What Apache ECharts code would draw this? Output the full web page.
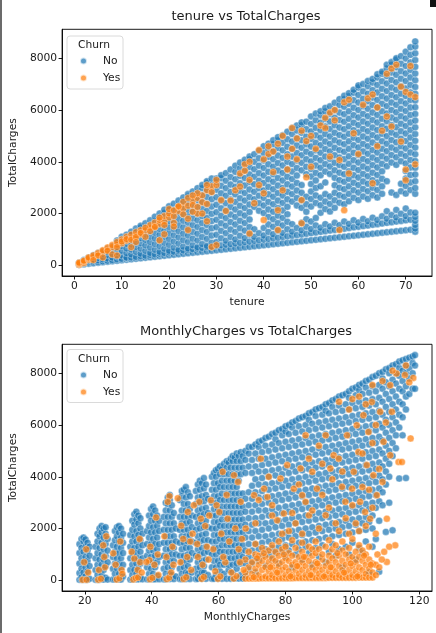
<!DOCTYPE html>
<html>
<head>
<meta charset="utf-8">
<script src="https://cdn.jsdelivr.net/npm/echarts@6/dist/echarts.min.js"></script>
<style>
html,body{margin:0;padding:0;background:#fff;}
#chart{width:436px;height:633px;}
</style>
</head>
<body>
<div id="chart"></div>
<script>
// ---------- Axis ticks / labels ----------
const tenureTicks = [0, 10, 20, 30, 40, 50, 60, 70];
const monthlyTicks = [20, 40, 60, 80, 100, 120];
const totalTicks = [0, 2000, 4000, 6000, 8000];
const churnLabels = ['No', 'Yes'];

// ---------- tenure vs TotalCharges ----------
// rows: [tenure, [TotalCharges values]] for Churn = No
const tenureNo = [
[1,[19,24,45,70,85,100]],
[2,[39,50,80,120,160,200]],
[3,[57,74,115,170,240,300]],
[4,[77,99,150,230,310,390]],
[5,[97,126,190,280,380,470]],
[6,[116,150,230,330,440,545]],
[7,[135,176,260,390,510,640]],
[8,[154,198,300,440,590,730]],
[9,[173,228,340,500,650,810,960]],
[10,[195,250,380,560,740,920,1100]],
[11,[214,277,300,470,650,830,1010,1180]],
[12,[232,301,420,610,800,990,1180,1300]],
[13,[252,325,520,710,900,1090,1280,1420]],
[14,[271,350,450,650,850,1050,1250,1450,1530]],
[15,[291,372,560,770,980,1190,1400,1620]],
[16,[310,398,480,690,900,1110,1320,1530,1740]],
[17,[330,421,600,820,1040,1260,1480,1700,1880]],
[18,[349,447,520,740,960,1180,1400,1620,1840,2000]],
[19,[368,473,640,870,1100,1330,1560,1790,2020,2150]],
[20,[387,497,560,790,1020,1250,1480,1710,1940,2170,2280]],
[21,[407,522,680,920,1160,1400,1640,1880,2120,2380]],
[22,[425,546,600,840,1080,1320,1560,1800,2040,2280,2500]],
[23,[445,572,720,970,1220,1470,1720,1970,2220,2470,2620]],
[24,[464,597,650,900,1150,1400,1650,1900,2150,2400,2650,2750]],
[25,[484,620,770,1030,1290,1550,1810,2070,2330,2590,2850]],
[26,[503,646,700,960,1220,1480,1740,2000,2260,2520,2780,2980]],
[27,[523,670,820,1090,1360,1630,1900,2170,2440,2710,2980,3100]],
[28,[541,696,750,1020,1290,1560,1830,2100,2370,2640,2910,3180,3250]],
[29,[561,720,870,1150,1430,1710,1990,2270,2550,2830,3110,3350]],
[30,[580,745,900,1180,1470,1760,2050,2340,2630,2920,3210,3350]],
[31,[600,770,1040,1330,1620,1910,2200,2490,2780,3070,3360,3480]],
[32,[619,795,950,1240,1530,1820,2110,2400,2690,2980,3270,3560]],
[33,[638,818,1090,1380,1670,1960,2250,2540,2830,3120,3410,3700]],
[34,[658,843,1000,1290,1580,1870,2160,2450,2740,3030,3320,3610,3850]],
[35,[677,870,1140,1430,1720,2010,2300,2590,2880,3170,3460,3750,3970]],
[36,[697,893,1050,1340,1630,1920,2210,2500,2790,3080,3370,3660,3950,4080]],
[37,[716,918,1190,1480,1770,2060,2350,2640,2930,3220,3510,3800,4090,4200]],
[38,[735,943,1100,1390,2260,2550,2840,3130,3420,3710,4000,4290]],
[39,[754,968,1240,2110,2400,2690,2980,3270,3560,3850,4140,4430]],
[40,[774,993,1150,1440,2020,2310,2600,2890,3180,3470,3760,4050,4340,4600]],
[41,[793,1017,1290,1580,1870,2160,2450,2740,3030,3320,3610,3900,4190,4480,4700]],
[42,[812,1042,1200,1490,1780,2070,2360,2650,2940,3230,3520,3810,4100,4390,4680,4830]],
[43,[832,1067,1340,1630,1920,2210,2500,2790,3080,3370,3660,3950,4240,4530,4820,4950]],
[44,[851,1092,1250,1540,1830,2120,2410,2700,2990,3280,3570,3860,4150,4440,4730,5020]],
[45,[870,1118,1390,1680,1970,2260,2550,2840,3130,3420,3710,4000,4290,4580,4870,5160]],
[46,[890,1143,1300,1590,2460,2750,3040,3330,3620,3910,4200,4490,4780,5070,5300]],
[47,[909,1168,1440,2310,2600,2890,3180,3470,3760,4050,4340,4630,4920,5210,5400]],
[48,[928,1192,1350,1640,2220,2510,2800,3100,3670,3960,4250,4540,4830,5120,5410,5520]],
[49,[947,1218,1490,1780,2070,2360,2650,3520,3810,4100,4390,4680,4970,5260,5550]],
[50,[967,1243,1400,1690,2270,2560,2850,3140,3430,3720,4010,4300,4590,4880,5170,5460,5750]],
[51,[986,1268,1540,1830,2410,2700,2990,3280,3570,3860,4150,4440,4730,5020,5310,5600,5860]],
[52,[1006,1292,1450,2030,2320,2610,3050,3480,3770,4060,4350,4640,4930,5220,5510,5800,5950]],
[53,[1025,1317,1590,2170,2460,2750,3200,3620,3910,4200,4490,4780,5070,5360,5650,5940,6080]],
[54,[1044,1342,1500,2080,2370,2660,3530,3820,4110,4400,4690,4980,5270,5560,5850,6140]],
[55,[1064,1367,1640,2220,2510,2800,3090,3380,3670,3960,4250,4540,4830,5120,5410,5700,5990,6280]],
[56,[1083,1391,1550,2420,2710,3000,3290,3580,3870,4160,4450,4740,5030,5320,5610,5900,6190,6420]],
[57,[1102,1416,1690,2360,2650,2940,3230,3520,3810,4100,4390,4680,4970,5260,5550,5840,6130,6420,6550]],
[58,[1122,1441,1600,2470,2760,3050,3340,3630,3920,4210,4500,4790,5080,5370,5660,5950,6240,6530,6650]],
[59,[1141,1466,1740,2610,2900,3190,3480,3770,4060,4350,4640,4930,5220,5510,5800,6090,6380,6670,6780]],
[60,[1160,1490,1650,2520,2810,3100,3390,3680,3970,4260,4550,4840,5130,5420,5710,6000,6290,6580,6870,6950]],
[61,[1180,1515,1790,2660,2950,3240,3530,3820,4110,4400,4690,4980,5270,5560,5850,6140,6430,6720,7000]],
[62,[1199,1540,1700,2570,2860,3150,3440,3730,4020,4310,4600,4890,5180,5470,5760,6050,6340,6630,6920,7120]],
[63,[1218,1565,1840,2710,3000,3290,3580,3870,4160,4450,4740,5030,5320,5610,5900,6190,6480,6770,7060,7200]],
[64,[1238,1590,1750,2620,2910,3200,3490,3780,4070,4360,4650,4940,5230,5520,5810,6100,6390,6680,6970,7260,7380]],
[65,[1257,1614,1890,2760,3050,3340,3630,3920,4210,4500,4790,5080,5370,5660,5950,6240,6530,6820,7110,7400,7480]],
[66,[1276,1639,1800,2090,3250,3830,4120,4410,4700,4990,5280,5570,5860,6150,6440,6730,7020,7310,7600,7750]],
[67,[1296,1664,1940,2810,3970,4260,4550,4840,5130,5420,5710,6000,6290,6580,6870,7160,7450,7740,7850]],
[68,[1315,1689,1850,2140,2720,3880,4170,4460,4750,5040,5330,5620,5910,6200,6490,6780,7070,7360,7650,7940,8000]],
[69,[1334,1714,1990,2860,3150,4020,4310,4600,4890,5180,5470,5760,6050,6340,6630,6920,7210,7500,7790,8080]],
[70,[1354,1738,1900,2190,2770,3060,3350,3640,3930,4220,4510,4800,5090,5380,5670,5960,6250,6540,6830,7120,7410,7700,7990,8250]],
[71,[1373,1763,2040,2910,3200,3490,3780,4070,4360,4650,4940,5230,5520,5810,6100,6390,6680,6970,7260,7550,7840,8130,8420]],
[72,[1300,1420,1560,1720,1870,2030,2760,2990,3250,3510,3770,4030,4290,4550,4810,5070,5330,5590,5850,6110,6370,6630,6890,7150,7410,7670,7930,8190,8450,8650]]
];

// [tenure, TotalCharges] for Churn = Yes
const tenureYes = [
[1,20],[1,45],[1,75],[1,100],[2,90],[2,150],[2,180],[3,210],[3,260],[3,300],[4,320],[4,380],[5,420],[5,470],[6,520],[6,580],[7,600],[7,690],[8,700],[8,780],[9,790],[9,900],[10,850],[10,1000],[11,960],[11,1100],[12,1050],[12,1180],[13,1150],[13,1280],[14,1200],[14,1350],[15,1350],[16,1450],[16,1550],[17,1500],[17,1650],[18,1600],[18,1750],[19,1700],[19,1900],[20,1850],[20,2000],[21,1900],[22,2100],[22,2250],[23,2200],[23,2450],[24,2300],[25,2500],[26,2600],[27,2700],[28,2900],[29,3050],[30,3100],
[5,380],[7,560],[9,700],[10,920],[11,1010],[12,990],[13,1090],[14,1250],[15,1450],[16,1320],[17,1480],[18,1840],[19,1560],[20,2170],[21,2120],[22,2280],[23,1970],[24,2600],[25,2330],[26,2780],[27,2440],[28,3100],[29,2830],[30,3300],[21,1640],[26,2000],[28,2370],[25,2070],
[4,200],[6,300],[8,420],[9,380],[12,700],[13,900],[15,1100],[18,970],[19,1200],[21,1500],[24,1800],[24,1360],[26,2250],[27,2000],[29,710],[30,780],[31,2520],[33,2500],[34,2900],[35,3550],[35,3040],[36,3650],[36,3900],[37,4000],[37,3300],[37,1230],[38,2400],[39,3100],[40,1750],[40,2780],[41,4300],[41,4600],[42,4400],[42,3600],[43,4700],[43,2130],[43,1360],[44,2900],[45,3700],[45,4200],[46,4500],[47,4900],[47,4100],[48,5200],[48,1620],[48,2520],[49,4800],[49,3400],[50,3810],[50,5000],[52,5400],[53,5700],[53,5300],[54,5900],[54,4200],[55,5600],[55,6000],[56,4070],[56,1360],[57,6300],[57,2130],[58,6400],[58,3550],[59,5100],[61,6200],[62,6450],[63,6600],[63,3170],[64,4600],[65,5200],[66,5750],[66,7400],[67,5360],[67,7600],[68,7750],[69,6900],[69,4780],[70,6700],[70,3290],[70,3700],[71,6600],[71,7700],[72,6500],[72,3900],[60,4300],[51,4500],[46,5300],[32,2100],[28,1700],[25,2700],[39,4450],[44,5000],[40,4100],[64,6100]
];

// ---------- MonthlyCharges vs TotalCharges ----------
// rows: [MonthlyCharges, [TotalCharges values]] for Churn = No
const monthlyNo = [
[18.4,[20,280,650,1050,1400]],
[19.0,[19,120,450,850,1250,1600]],
[19.6,[20,300,700,1100,1500,1650]],
[20.2,[20,150,500,900,1300,1580]],
[20.8,[21,350,750,1150,1450]],
[21.4,[60,550,950,1300]],
[23.2,[24,400,850,1300]],
[23.8,[25,200,600,1050,1500,1800]],
[24.4,[25,400,800,1250,1700,2000]],
[25.0,[50,200,600,1000,1450,1850,2100]],
[25.6,[26,400,800,1200,1650,2000]],
[26.2,[100,550,950,1400,1800,2050]],
[26.8,[27,700,1150,1600]],
[28.4,[29,450,900,1350]],
[29.0,[30,250,650,1100,1550,1900]],
[29.6,[45,450,850,1300,1700,2050]],
[30.2,[30,250,650,1050,1500,1850,2100]],
[30.8,[31,450,850,1250,1650,2000]],
[31.4,[150,600,1050,1450,1800]],
[33.6,[34,400,850,1300,1750]],
[34.2,[35,200,600,1050,1500,1950,2300]],
[34.8,[70,400,800,1250,1700,2150,2550]],
[35.4,[36,250,650,1050,1500,1900,2350,2650]],
[36.0,[36,450,850,1300,1750,2200,2500]],
[36.6,[120,650,1100,1550,2000,2400]],
[37.2,[37,850,1350,1800]],
[38.6,[39,500,950,1400,1900]],
[39.2,[39,250,700,1150,1650,2100,2500]],
[39.8,[80,450,900,1400,1850,2300,2750]],
[40.4,[41,250,700,1150,1600,2050,2550,2850]],
[41.0,[40,500,950,1400,1850,2300,2700]],
[41.6,[180,700,1200,1650,2100,2500]],
[42.2,[42,900,1400,1900,2300]],
[43.6,[44,450,950,1450,1950,2450]],
[44.2,[44,250,700,1200,1700,2200,2700,3000]],
[44.8,[90,500,950,1450,1950,2450,2950,3200]],
[45.4,[46,250,750,1200,1700,2200,2700,3100,3300]],
[46.0,[200,500,1000,1450,1950,2450,2900]],
[46.6,[47,750,1250,1700,2200,2600]],
[47.2,[150,1000,1500,2000]],
[48.4,[49,450,950,1450,1950,2450,3100]],
[49.0,[49,250,700,1200,1700,2200,2700,3250,3450]],
[49.6,[100,500,950,1450,1950,2450,2950,3500]],
[50.2,[51,300,750,1250,1700,2200,2700,3200,3600]],
[50.8,[250,550,1000,1500,1950,2450,2950,3400]],
[51.4,[52,800,1250,1750,2250,2750,3250]],
[52.0,[300,1050,1500,2050,2500]],
[53.2,[54,450,950,1450,1950,2450,2950,3450]],
[53.8,[55,250,700,1200,1700,2200,2700,3200,3700]],
[54.4,[150,500,1000,1500,2000,2500,3000,3500,3850]],
[55.0,[56,300,750,1250,1750,2250,2750,3250,3750]],
[55.6,[300,550,1050,1550,2050,2550,3050,3550,3950]],
[56.2,[57,800,1300,1800,2300,2800,3300,3700]],
[56.8,[200,1100,1550,2050,2600,3150]],
[58.0,[60,500,1000,1500,2000,2500,3000,3500,4000]],
[58.6,[59,750,1250,1750,2250,2750,3250,3750,4150]],
[59.2,[200,500,1000,1500,2000,2500,3000,3500,4000,4250]],
[59.8,[61,750,1250,1750,2250,2750,3250,3750,4300]],
[60.4,[350,600,1100,1600,2100,2600,3100,3600,4100,4400]],
[61.0,[62,850,1350,1850,2350,2850,3350,3850,4300]],
[61.6,[250,600,1100,1600,2100,2600,3100,3600,4100,4500]],
[62.4,[63,850,1350,1850,2350,2850,3350,3850,4350,4600]],
[63.0,[400,600,1100,1600,2100,2600,3100,3600,4100,4550]],
[63.6,[64,850,1350,1850,2350,2850,3350,3850,4350,4700]],
[64.2,[300,600,1100,1600,2100,2600,3100,3600,4100,4600,4800]],
[64.8,[65,850,1350,1850,2350,2850,3350,3850,4350,4750]],
[65.4,[450,650,1100,1600,2100,2600,3100,3600,4100,4600,4900]],
[66.0,[66,900,1350,1850,2350,2850,3350,3850,4350,4800]],
[66.6,[200,650,1100,1600,2100,2600,3100,4100,4600,4950]],
[67.2,[67,900,1350,1850,2350,2850,3350,4350,4800]],
[68,[180,650,1150,1650,2150,2650,3150,4150,4650,5000]],
[69,[420,900,1400,1900,2400,2900,3400,4400,4900,5150]],
[70,[650,1150,1650,2150,2650,3150,3650,4150,4650,5150]],
[71,[300,900,1400,1900,2400,2900,3400,3900,4400,4900,5250]],
[72,[750,1200,1700,2200,2700,3200,3700,4200,4700,5150,5350]],
[73,[950,1450,1950,2450,2950,3450,3950,4450,4950,5400]],
[74,[550,1200,1700,2200,2700,3200,3700,4200,4700,5200,5500]],
[75,[1000,1500,2000,2500,3000,3500,4000,4500,5000,5550]],
[76,[800,1250,1750,2250,2750,3250,3750,4250,4750,5250,5650]],
[77,[1050,1550,2050,2550,3050,3550,4050,4550,5050,5450,5700]],
[78,[650,1300,1800,2300,2800,3300,3800,4300,4800,5300,5800]],
[79,[1100,1600,2100,2600,3100,3600,4100,4600,5100,5600,5850]],
[80,[900,1350,1850,2350,2850,3350,3850,4350,4850,5350,5750,5950]],
[81,[1150,1650,2150,2650,3150,3650,4150,4650,5150,5650,6000]],
[82,[500,1400,1900,2400,2900,3400,3900,4400,4900,5400,5900,6100]],
[83,[1000,1700,2200,2700,3200,3700,4200,4700,5200,5700,6150]],
[84,[1200,1450,1950,2450,2950,3450,3950,4450,4950,5450,5950,6250]],
[85,[800,1750,2250,2750,3250,3750,4250,4750,5250,5750,6300]],
[86,[1300,1500,2000,2500,3000,3500,4000,4500,5000,5500,6000,6350]],
[87,[1050,1800,2300,2800,3300,3800,4300,4800,5300,5800,6200,6450]],
[88,[600,1550,2050,2550,3050,3550,4050,4550,5050,5550,6050,6500]],
[89,[1250,1850,2350,2850,3350,3850,4350,4850,5350,5850,6350,6600]],
[90,[900,1600,2100,2600,3100,3600,4100,4600,5100,5600,6100,6650]],
[91,[1350,1900,2400,2900,3400,3900,4400,4900,5400,5900,6400,6700]],
[92,[700,1650,2150,2650,3150,3650,4150,4650,5150,5650,6150,6550,6800]],
[93,[1100,1950,2450,2950,3450,3950,4450,4950,5450,5950,6450,6850]],
[94,[1400,1700,2200,2700,3200,3700,4200,4700,5200,5700,6200,6700,6950]],
[95,[950,2000,2500,3000,3500,4000,4500,5000,5500,6000,6500,7000]],
[96,[1200,1750,2250,2750,3250,3750,4250,4750,5250,5750,6250,6750,7100]],
[97,[500,2050,2550,3050,3550,4050,4550,5050,5550,6050,6550,7150]],
[98,[1300,1800,2300,2800,3300,3800,4300,4800,5300,5800,6300,6800,7200]],
[99,[1000,2100,2600,3100,3600,4100,4600,5100,5600,6100,6600,7050,7300]],
[100,[1450,1850,2350,2850,3350,3850,4350,4850,5350,5850,6350,6850,7400]],
[101,[800,2150,2650,3150,3650,4150,4650,5150,5650,6150,6650,7150,7450]],
[102,[1250,1900,2400,2900,3400,3900,4400,4900,5400,5900,6400,6900,7350,7550]],
[103,[1050,2200,2700,3200,3700,4200,4700,5200,5700,6200,6700,7200,7600]],
[104,[1500,1950,2450,2950,3450,3950,4450,4950,5450,5950,6450,6950,7450,7700]],
[105,[300,2250,2750,3250,3750,4250,4750,5250,5750,6250,6750,7250,7750]],
[106,[1300,2000,2500,3000,3500,4000,4500,5000,5500,6000,6500,7000,7500,7850]],
[107,[1600,2800,3300,3800,4300,4800,5300,5800,6300,6800,7300,7900]],
[108,[330,2300,3050,3550,4050,4550,5050,5550,6050,6550,7050,7550,8000]],
[109,[2900,3400,3900,4400,4900,5400,5900,6400,6900,7400,7800,8050]],
[110,[1870,3700,4200,4700,5200,5700,6200,6700,7200,7650,8150]],
[111,[3000,4000,4500,5000,5500,6000,6500,7000,7500,8000,8200]],
[112,[1930,4800,5300,5800,6300,6800,7300,7750,8300]],
[113,[5100,5600,6100,6600,7100,7600,8000,8350]],
[114,[3930,5900,6400,6900,7400,7900,8200,8450]],
[115,[5600,6300,6800,7300,7700,8100,8500]],
[116,[3950,6600,7100,7500,8000,8300,8550]],
[117,[7200,7800,8200,8600]],
[118,[7400,8000,8400,8650]],
[118.7,[7400,8300,8700]]
];

// rows: [MonthlyCharges, [TotalCharges values]] for Churn = Yes (low-total cluster)
const monthlyYesRows = [
[68,[68,300,800]],[69,[70,500,1100]],[70,[71,250,700]],[71,[72,450,1000,1400]],
[72,[73,200,600,950]],[73,[74,400,750,1250]],[74,[75,150,500,900]],[75,[76,350,700,1150]],
[76,[77,200,550,850,1350]],[77,[78,400,750,1100]],[78,[79,250,550,950,1500]],[79,[80,400,700,1200]],
[80,[81,200,500,850,1300]],[81,[82,350,750,1050]],[82,[83,200,600,950,1550]],[83,[84,400,700,1250]],
[84,[85,250,550,900]],[85,[86,400,700,1100,1450]],[86,[87,200,550,900]],[87,[88,350,750,1300]],
[88,[89,200,500,950,1200]],[89,[90,400,700,1050,1500]],[90,[91,250,550,1200]],[91,[92,400,800,1000]],
[92,[93,200,550,1300]],[93,[94,350,700,950,1550]],[94,[95,200,500,850,1200]],[95,[96,350,700,1350]],
[96,[97,200,550,950]],[97,[98,400,750,1150,1500]],[98,[99,250,600,1000]],[99,[100,400,800,1250]],
[100,[101,200,550,900,1600]],[101,[102,350,700,1100]],[102,[103,200,500,900,1350]],[103,[104,400,750,1150]],
[104,[105,250,600,1000]],[105,[106,450,800,1300]],[106,[107,300,650]],[107,[200,600]],[108,[500]]
];

// [MonthlyCharges, TotalCharges] for Churn = Yes (scattered)
const monthlyYesScatter = [
[19.3,20],[20.5,25],[21,300],[24,25],[24.8,60],[25.5,1350],[26,500],[29.5,30],[30.3,80],[28.5,1040],[31,400],[34.5,35],[35.2,85],[35.9,110],[36.5,700],[34.8,840],[39.5,40],[40.2,95],[39.3,770],[41.8,1000],[41.3,2430],[38.4,710],[44.5,45],[45.2,100],[45.3,3250],[44.8,3030],[47.8,3170],[48.8,2110],[46.5,600],[49.5,50],[50.3,120],[50.8,2640],[51.5,1500],[54.2,3030],[54.7,2380],[54.9,56],[55.6,130],[53.8,900],[57.7,3090],[56.5,1300],[59.8,60],[60.5,150],[60.2,2640],[61.2,4190],[62.7,2380],[62,700],[64.5,65],[65.3,160],[64.6,4060],[66.6,3030],[66,1200],[67.5,400],
[19.8,700],[20.4,1200],[24.2,400],[25.8,900],[26.4,1700],[29.2,600],[30.6,1500],[31.2,250],[34.0,1100],[35.8,400],[36.4,1600],[37.0,300],[39.6,1300],[40.8,600],[42.0,200],[43.8,1700],[44.4,900],[46.2,1300],[45.8,300],[48.6,700],[49.4,1600],[50.6,900],[51.8,400],[52.2,1800],[53.6,1400],[55.2,600],[56.0,2100],[57.0,800],[58.4,1200],[59.0,350],[60.8,1800],[61.4,900],[63.2,1500],[63.8,300],[65,2000],[66.4,700],[67.0,1600],[59.4,2900],[62.4,3300],[65.8,3800],[57.2,2500],[52.6,2900],
[68.1,2000],[70.6,3290],[72.6,4700],[73.6,3540],[74.6,3220],[76,2900],[77.5,2320],[78.5,3930],[79.5,2580],[80.5,4450],[82.5,3540],[84.5,4320],[85,3290],[86,3030],[87,2510],[88,4190],[89.4,3540],[92,2510],[93.4,4320],[94.4,4830],[95.9,4700],[96.9,3610],[97.9,3030],[98.4,5600],[99.9,3540],[100.4,4190],[101.3,5990],[101.8,4960],[102.3,3030],[103.3,6380],[103.8,2640],[104.3,4450],[104.8,5730],[105.3,2380],[105.8,6890],[106.3,4060],[107.3,3290],[108.3,6510],[109.3,5350],[110.3,2380],[111.3,4830],[111.8,6510],[110.3,710],[112.8,1350],[113.8,4570],[114.8,4570],[117.4,5480],[113.2,7990],[118.2,7820],[111.3,7540],[115.7,7930],
[81,1900],[83,2200],[85,1800],[88,2700],[90,2000],[91,3300],[93,2800],[95,2200],[96,1900],[98,2400],[99,1800],[100,2900],[101,2200],[102,1900],[104,2100],[105,3500],[106,2800],[107,1800],[103,4900],[106,5300],[108,4300],[109,3800],[110,6100],[107,6000],[104,6800],[99,6600],[96,6900],[92,5600],[90,5200],[87,4700],[84,3700],[82,2600],[79,1800],[76,2500],[75,4000],[72,3100],[71,2200],[103,3600],[97,4200],[94,3900],[91,4500],[86,5600],[100,7000],[102,7100],[106,7550],[109,7700],[112,8100],[116,8300],[117,7650],
[70.5,120],[71.5,850],[73.5,1050],[75.5,500],[77.5,300],[79.5,1000],[81.5,150],[83.5,550],[85.5,900],[87.5,200],[89.5,650],[91.5,150],[93.5,500],[95.5,1050],[97.5,300],[99.5,650],[101.5,150],[103.5,950],[105.5,600],[107.5,1000],[108.8,800],[109.5,1100],[111,1300]
];

// ---------- Build ----------
function rowsToPairs(rows) {
  const out = [];
  rows.forEach(function (r) { r[1].forEach(function (v) { out.push([r[0], v]); }); });
  return out;
}

const BLUE = '#1f77b4', ORANGE = '#ff7f0e';
const FONT = 'DejaVu Sans';
const TXT = '#1a1a1a';

function pointSeries(name, color, xi, data) {
  return {
    name: name, type: 'scatter', xAxisIndex: xi, yAxisIndex: xi,
    data: data, symbolSize: 7, large: false,
    itemStyle: { color: color, opacity: 0.72, borderColor: '#ffffff', borderWidth: 0.5 },
    emphasis: { disabled: true }, animation: false
  };
}

function plainLabel(v) { return String(v); }

function xAxisCfg(gi, min, max, ticks, name) {
  return {
    gridIndex: gi, type: 'value', min: min, max: max,
    axisLine: { show: true, onZero: false, lineStyle: { color: '#000', width: 0.9 } },
    axisTick: { show: true, length: 3.5, lineStyle: { color: '#000', width: 0.9 }, customValues: ticks },
    axisLabel: { color: TXT, fontSize: 10.7, fontFamily: FONT, margin: 5, customValues: ticks, formatter: plainLabel },
    splitLine: { show: false },
    name: name, nameLocation: 'middle', nameGap: 21,
    nameTextStyle: { color: TXT, fontSize: 10.7, fontFamily: FONT }
  };
}
function yAxisCfg(gi, min, max, ticks, name) {
  return {
    gridIndex: gi, type: 'value', min: min, max: max,
    axisLine: { show: true, onZero: false, lineStyle: { color: '#000', width: 0.9 } },
    axisTick: { show: true, length: 3.5, lineStyle: { color: '#000', width: 0.9 }, customValues: ticks },
    axisLabel: { color: TXT, fontSize: 10.7, fontFamily: FONT, margin: 5, customValues: ticks, formatter: plainLabel },
    splitLine: { show: false },
    name: name, nameLocation: 'middle', nameGap: 40, nameRotate: 90,
    nameTextStyle: { color: TXT, fontSize: 10.7, fontFamily: FONT }
  };
}

function legendCfg(top) {
  return {
    data: churnLabels, orient: 'vertical', left: 79, top: top, padding: 0,
    icon: 'circle', itemWidth: 7, itemHeight: 7, itemGap: 6,
    selectedMode: false,
    textStyle: { color: TXT, fontSize: 10.7, fontFamily: FONT, padding: [0, 0, 0, 11] }
  };
}

function legendBox(y) {
  return [
    { type: 'rect', shape: { x: 67, y: y, width: 56, height: 53, r: 3 }, z: 3,
      style: { fill: 'rgba(255,255,255,0.85)', stroke: '#d6d6d6', lineWidth: 0.9 } },
    { type: 'text', x: 94, y: y + 9.5, z: 4,
      style: { text: 'Churn', fill: TXT, fontSize: 10.7, fontFamily: FONT, textAlign: 'center', textVerticalAlign: 'middle' } }
  ];
}

const chart = echarts.init(document.getElementById('chart'), null, { renderer: 'canvas' });
const option = {
  backgroundColor: '#ffffff',
  animation: false,
  grid: [
    { left: 60, top: 29.3, width: 372, height: 246.7, show: true, borderColor: '#000', borderWidth: 0.9, backgroundColor: '#fff' },
    { left: 60, top: 344.3, width: 372, height: 246.7, show: true, borderColor: '#000', borderWidth: 0.9, backgroundColor: '#fff' }
  ],
  xAxis: [
    xAxisCfg(0, -2.6, 75.55, tenureTicks, 'tenure'),
    xAxisCfg(1, 13.2, 123.8, monthlyTicks, 'MonthlyCharges')
  ],
  yAxis: [
    yAxisCfg(0, -414, 9118, totalTicks, 'TotalCharges'),
    yAxisCfg(1, -414, 9118, totalTicks, 'TotalCharges')
  ],
  legend: [legendCfg(55.5), legendCfg(369.5)],
  series: [
    pointSeries('No', BLUE, 0, rowsToPairs(tenureNo)),
    pointSeries('Yes', ORANGE, 0, tenureYes),
    pointSeries('No', BLUE, 1, rowsToPairs(monthlyNo)),
    pointSeries('Yes', ORANGE, 1, rowsToPairs(monthlyYesRows).concat(monthlyYesScatter))
  ],
  graphic: [
    { type: 'text', x: 246, y: 17, style: { text: 'tenure vs TotalCharges', fill: TXT, fontSize: 13, fontFamily: FONT, textAlign: 'center', textVerticalAlign: 'middle' } },
    { type: 'text', x: 246, y: 332, style: { text: 'MonthlyCharges vs TotalCharges', fill: TXT, fontSize: 13, fontFamily: FONT, textAlign: 'center', textVerticalAlign: 'middle' } },
    { type: 'line', shape: { x1: 1, y1: 0, x2: 1, y2: 633 }, style: { stroke: '#3a3a3a', lineWidth: 1.5 } },
    { type: 'rect', shape: { x: 430, y: 0, width: 6, height: 7 }, style: { fill: '#111' } }
  ].concat(legendBox(36), legendBox(349.5))
};
chart.setOption(option);
</script>
</body>
</html>
